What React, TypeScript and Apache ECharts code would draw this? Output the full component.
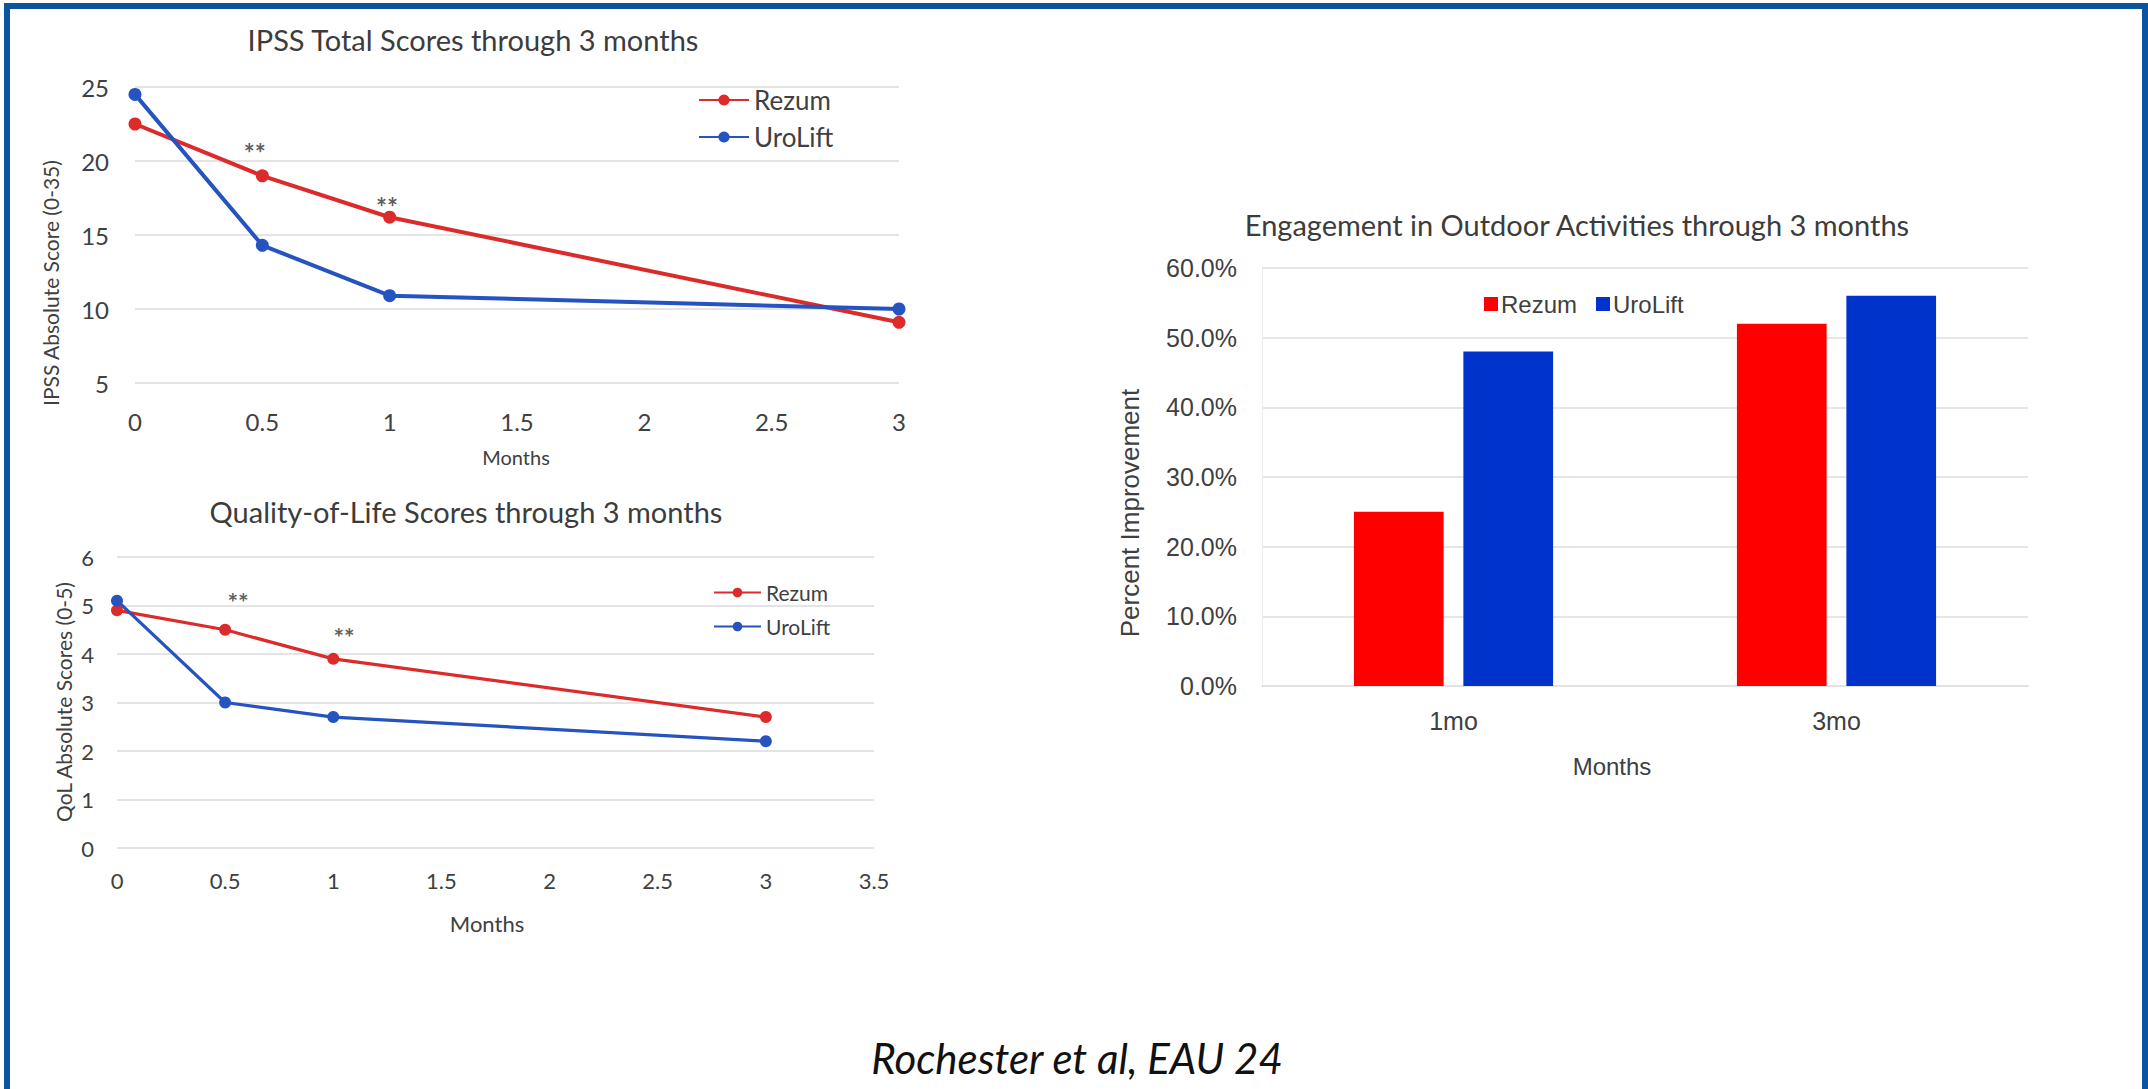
import React, { useEffect, useRef } from "react";
import * as echarts from "echarts";

// ---- data ----
const ipssMonths = [0, 0.5, 1, 3];
const ipssRezum = [22.5, 19.0, 16.2, 9.1];
const ipssUroLift = [24.5, 14.3, 10.9, 10.0];
const ipssSig = [[0.47, 20.9], [0.99, 17.2]];

const qolMonths = [0, 0.5, 1, 3];
const qolRezum = [4.9, 4.5, 3.9, 2.7];
const qolUroLift = [5.1, 3.0, 2.7, 2.2];
const qolSig = [[0.56, 5.17], [1.05, 4.45]];

const barCategories = ["1mo", "3mo"];
const barRezum = [25, 52];
const barUroLift = [48, 56];

const seriesNames = ["Rezum", "UroLift"];

const RED_LINE = "#dc2b2b";
const BLUE_LINE = "#2553c0";
const RED_BAR = "#ff0000";
const BLUE_BAR = "#0033cc";
const TXT = "#404040";
const GRIDC = "#e4e4e4";
const CAL = "Lato, 'Open Sans', sans-serif";
const ARIAL = "'Liberation Sans', Arial, sans-serif";

const pairs = (xs: number[], ys: number[]) => xs.map((x, i) => [x, ys[i]]);
const legendFmt = (n: string) => n.split("|")[0];

export default function App() {
  const ref = useRef<HTMLDivElement>(null);
  useEffect(() => {
    if (!ref.current) return;
    const chart = echarts.init(ref.current, undefined, { renderer: "svg" });
    const lineSeries = (
      name: string, xi: number, xs: number[], ys: number[], color: string, w: number, sym: number
    ) => ({
      type: "line",
      name,
      xAxisIndex: xi,
      yAxisIndex: xi,
      data: pairs(xs, ys),
      symbol: "circle",
      symbolSize: sym,
      showSymbol: true,
      lineStyle: { color, width: w },
      itemStyle: { color },
      emphasis: { disabled: true },
    });
    const sigSeries = (xi: number, data: number[][], fs: number) => ({
      type: "scatter",
      xAxisIndex: xi,
      yAxisIndex: xi,
      data,
      symbolSize: 0,
      silent: true,
      label: {
        show: true,
        formatter: "**",
        position: "inside",
        fontSize: fs,
        fontWeight: "bold",
        fontFamily: CAL,
        color: "#333",
        offset: [0, 5],
      },
    });
    const option: any = {
      animation: false,
      backgroundColor: "#ffffff",
      textStyle: { fontFamily: CAL },
      grid: [
        { left: 135, top: 87, width: 764, height: 296 },
        { left: 117, top: 557, width: 757, height: 291 },
        { left: 1262, top: 268, width: 766, height: 418 },
      ],
      xAxis: [
        {
          gridIndex: 0, type: "value", min: 0, max: 3, interval: 0.5,
          axisLine: { show: false }, axisTick: { show: false }, splitLine: { show: false },
          axisLabel: { fontSize: 24, color: TXT, margin: 26, fontFamily: CAL },
        },
        {
          gridIndex: 1, type: "value", min: 0, max: 3.5, interval: 0.5,
          axisLine: { show: false }, axisTick: { show: false }, splitLine: { show: false },
          axisLabel: { fontSize: 22, color: TXT, margin: 21, fontFamily: CAL },
        },
        {
          gridIndex: 2, type: "category", data: barCategories,
          axisLine: { show: true, lineStyle: { color: "#e2e2e2", width: 2 } },
          axisTick: { show: false },
          axisLabel: { fontSize: 25, color: TXT, margin: 22, fontFamily: ARIAL },
        },
      ],
      yAxis: [
        {
          gridIndex: 0, type: "value", min: 5, max: 25, interval: 5,
          axisLine: { show: false }, axisTick: { show: false },
          splitLine: { lineStyle: { color: GRIDC, width: 2 } },
          axisLabel: { fontSize: 24, color: TXT, margin: 26, fontFamily: CAL },
        },
        {
          gridIndex: 1, type: "value", min: 0, max: 6, interval: 1,
          axisLine: { show: false }, axisTick: { show: false },
          splitLine: { lineStyle: { color: GRIDC, width: 2 } },
          axisLabel: { fontSize: 22, color: TXT, margin: 23, fontFamily: CAL },
        },
        {
          gridIndex: 2, type: "value", min: 0, max: 60, interval: 10,
          axisLine: { show: true, lineStyle: { color: "#ececec", width: 1 } },
          axisTick: { show: false },
          splitLine: { lineStyle: { color: "#e6e6e6", width: 2 } },
          axisLabel: {
            fontSize: 25, color: TXT, margin: 25, fontFamily: ARIAL,
            formatter: (v: number) => v.toFixed(1) + "%",
          },
        },
      ],
      legend: [
        {
          data: seriesNames.map((n) => n + "|ipss"),
          orient: "vertical", left: 693, top: 82,
          itemWidth: 50, itemHeight: 14, itemGap: 11,
          formatter: legendFmt, selectedMode: false,
          textStyle: { fontSize: 26, color: TXT, fontFamily: CAL },
        },
        {
          data: seriesNames.map((n) => n + "|qol"),
          orient: "vertical", left: 708, top: 577,
          itemWidth: 47, itemHeight: 12, itemGap: 13,
          formatter: legendFmt, selectedMode: false,
          textStyle: { fontSize: 21, color: TXT, fontFamily: CAL },
        },
        {
          data: seriesNames.map((n) => n + "|bar"),
          orient: "horizontal", left: 1479, top: 287,
          icon: "rect", itemWidth: 14, itemHeight: 14, itemGap: 19,
          formatter: legendFmt, selectedMode: false,
          textStyle: { fontSize: 24, color: TXT, fontFamily: ARIAL, padding: [0, 0, 0, -2] },
        },
      ],
      series: [
        lineSeries("Rezum|ipss", 0, ipssMonths, ipssRezum, RED_LINE, 4, 13),
        lineSeries("UroLift|ipss", 0, ipssMonths, ipssUroLift, BLUE_LINE, 4, 13),
        sigSeries(0, ipssSig, 26),
        lineSeries("Rezum|qol", 1, qolMonths, qolRezum, RED_LINE, 3.2, 12),
        lineSeries("UroLift|qol", 1, qolMonths, qolUroLift, BLUE_LINE, 3.2, 12),
        sigSeries(1, qolSig, 25),
        {
          type: "bar", name: "Rezum|bar", xAxisIndex: 2, yAxisIndex: 2,
          data: barRezum, itemStyle: { color: RED_BAR },
          barGap: "22%", barCategoryGap: "48%",
        },
        {
          type: "bar", name: "UroLift|bar", xAxisIndex: 2, yAxisIndex: 2,
          data: barUroLift, itemStyle: { color: BLUE_BAR },
          barGap: "22%", barCategoryGap: "48%",
        },
      ],
      graphic: [
        {
          type: "rect", silent: true,
          shape: { x: 7, y: 6, width: 2138, height: 1120 },
          style: { fill: "none", stroke: "#0b55a0", lineWidth: 6 },
        },
        {
          type: "text", x: 473, y: 39,
          style: { text: "IPSS Total Scores through 3 months", fontSize: 29, fontFamily: CAL, fill: "#3c3c3c", align: "center", verticalAlign: "middle" },
        },
        {
          type: "text", x: 466, y: 511,
          style: { text: "Quality-of-Life Scores through 3 months", fontSize: 29, fontFamily: CAL, fill: "#3c3c3c", align: "center", verticalAlign: "middle" },
        },
        {
          type: "text", x: 1577, y: 224,
          style: { text: "Engagement in Outdoor Activities through 3 months", fontSize: 29, fontFamily: CAL, fill: "#3c3c3c", align: "center", verticalAlign: "middle" },
        },
        {
          type: "text", x: 50, y: 283, rotation: Math.PI / 2,
          style: { text: "IPSS Absolute Score (0-35)", fontSize: 21, fontFamily: CAL, fill: TXT, align: "center", verticalAlign: "middle" },
        },
        {
          type: "text", x: 63, y: 702, rotation: Math.PI / 2,
          style: { text: "QoL Absolute Scores (0-5)", fontSize: 21, fontFamily: CAL, fill: TXT, align: "center", verticalAlign: "middle" },
        },
        {
          type: "text", x: 1130, y: 513, rotation: Math.PI / 2,
          style: { text: "Percent Improvement", fontSize: 26, fontFamily: ARIAL, fill: TXT, align: "center", verticalAlign: "middle" },
        },
        {
          type: "text", x: 516, y: 457,
          style: { text: "Months", fontSize: 20, fontFamily: CAL, fill: TXT, align: "center", verticalAlign: "middle" },
        },
        {
          type: "text", x: 487, y: 923,
          style: { text: "Months", fontSize: 22, fontFamily: CAL, fill: TXT, align: "center", verticalAlign: "middle" },
        },
        {
          type: "text", x: 1612, y: 766,
          style: { text: "Months", fontSize: 24, fontFamily: ARIAL, fill: TXT, align: "center", verticalAlign: "middle" },
        },
        {
          type: "text", x: 1077, y: 1058,
          style: { text: "Rochester et al, EAU 24", fontSize: 42, fontStyle: "italic", fontFamily: CAL, fill: "#111111", align: "center", verticalAlign: "middle" },
        },
      ],
    };
    chart.setOption(option);
    return () => chart.dispose();
  }, []);
  return (
    <div
      ref={ref}
      style={{ position: "fixed", left: 0, top: 0, width: 2148, height: 1089, background: "#fff" }}
    />
  );
}
